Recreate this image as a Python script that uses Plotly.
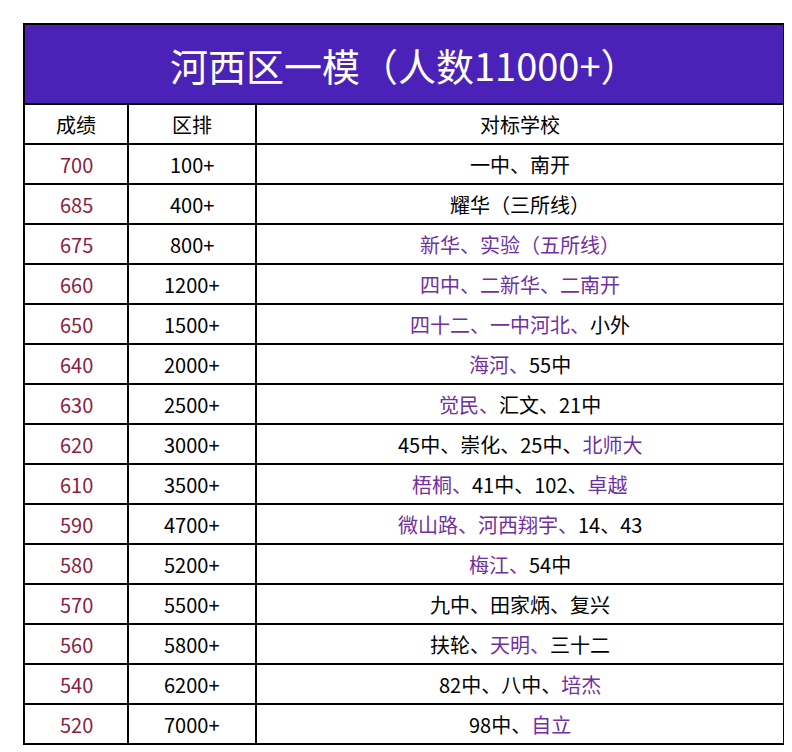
import re
import plotly.graph_objects as go

title = "河西区一模（人数11000+）"
columns = ["成绩", "区排", "对标学校"]
scores = [700, 685, 675, 660, 650, 640, 630, 620, 610, 590, 580, 570, 560, 540, 520]
ranks = ["100+", "400+", "800+", "1200+", "1500+", "2000+", "2500+", "3000+",
         "3500+", "4700+", "5200+", "5500+", "5800+", "6200+", "7000+"]
# parts in {} are shown in purple
schools = [
    "一中、南开",
    "耀华（三所线）",
    "{新华、实验（五所线）}",
    "{四中、二新华、二南开}",
    "{四十二、一中河北、}小外",
    "{海河、}55中",
    "{觉民、}汇文、21中",
    "45中、崇化、25中、{北师大}",
    "{梧桐、}41中、102、{卓越}",
    "{微山路、河西翔宇、}14、43",
    "{梅江、}54中",
    "九中、田家炳、复兴",
    "扶轮、{天明、}三十二",
    "82中、八中、{培杰}",
    "98中、{自立}",
]

PURPLE = "#7030A0"
SCORE_RED = "#8B1E3F"
HEADER_BG = "#4A22B8"
W, H = 792, 752
COL_EDGES = [16, 120, 248, 776]
TOP, TITLE_BOT, ROW_H = 16, 96, 40
font = "Noto Sans CJK SC"


def markup(s):
    return re.sub(r"\{(.*?)\}", lambda m: f"<span style='color:{PURPLE}'>{m.group(1)}</span>", s)


fig = go.Figure()
n_rows = len(scores) + 1
bottom = TITLE_BOT + n_rows * ROW_H
x0, x1 = COL_EDGES[0], COL_EDGES[-1]

# title band
fig.add_shape(type="rect", x0=x0, x1=x1, y0=TOP, y1=TITLE_BOT,
              fillcolor=HEADER_BG, line=dict(color="black", width=2))
fig.add_annotation(x=(x0 + x1) / 2, y=(TOP + TITLE_BOT) / 2, text=title,
                   showarrow=False, font=dict(family=font, size=38, color="white"))

# grid
fig.add_shape(type="rect", x0=x0, x1=x1, y0=TITLE_BOT, y1=bottom,
              line=dict(color="black", width=2))
for i in range(1, n_rows):
    y = TITLE_BOT + i * ROW_H
    fig.add_shape(type="line", x0=x0, x1=x1, y0=y, y1=y, line=dict(color="black", width=2))
for xe in COL_EDGES[1:-1]:
    fig.add_shape(type="line", x0=xe, x1=xe, y0=TITLE_BOT, y1=bottom,
                  line=dict(color="black", width=2))

centers = [(COL_EDGES[i] + COL_EDGES[i + 1]) / 2 for i in range(3)]
for c, name in zip(centers, columns):
    fig.add_annotation(x=c, y=TITLE_BOT + ROW_H / 2, text=name, showarrow=False,
                       font=dict(family=font, size=20, color="black"))
for r, (s, rk, sc) in enumerate(zip(scores, ranks, schools)):
    y = TITLE_BOT + (r + 1.5) * ROW_H
    fig.add_annotation(x=centers[0], y=y, text=str(s), showarrow=False,
                       font=dict(family=font, size=20, color=SCORE_RED))
    fig.add_annotation(x=centers[1], y=y, text=rk, showarrow=False,
                       font=dict(family=font, size=20, color="black"))
    fig.add_annotation(x=centers[2], y=y, text=markup(sc), showarrow=False,
                       font=dict(family=font, size=20, color="black"))

fig.update_xaxes(range=[0, W], visible=False, fixedrange=True)
fig.update_yaxes(range=[H, 0], visible=False, fixedrange=True)
fig.update_layout(width=W, height=H, margin=dict(l=0, r=0, t=0, b=0),
                  paper_bgcolor="white", plot_bgcolor="white", showlegend=False)
fig.write_html("out.html", config={"displayModeBar": False})
